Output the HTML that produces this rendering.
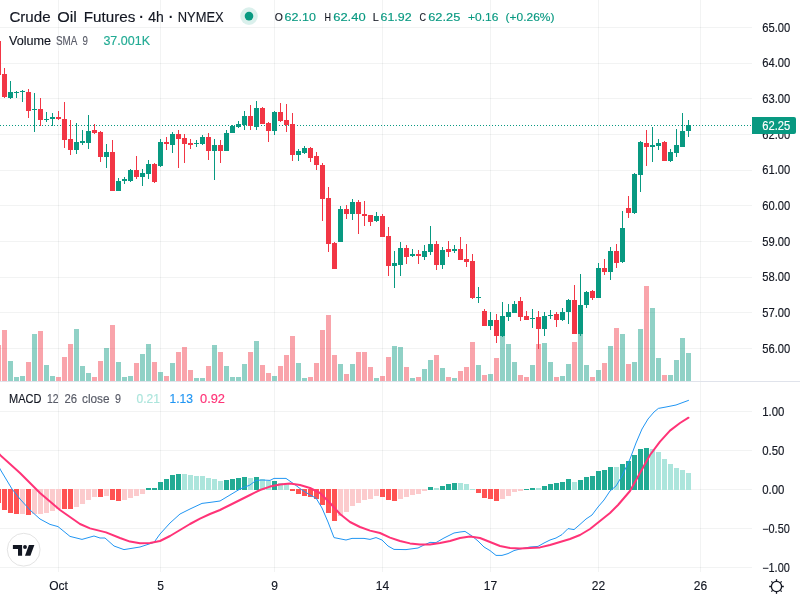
<!DOCTYPE html>
<html lang="en"><head><meta charset="utf-8"><title>Crude Oil Futures chart</title>
<style>
html,body{margin:0;padding:0;background:#fff}
body{width:800px;height:600px;overflow:hidden;position:relative;font-family:"Liberation Sans",sans-serif;color:#131722}
svg{position:absolute;left:0;top:0;display:block}
text{font-family:"Liberation Sans",sans-serif}
.c rect{shape-rendering:crispEdges}
</style></head><body>
<svg width="800" height="600" viewBox="0 0 800 600">
<rect width="800" height="600" fill="#fff"/>
<g class="c" fill="rgba(42,46,57,0.06)">
<rect x="58" y="0" width="1" height="381"/><rect x="58" y="382" width="1" height="190"/>
<rect x="160" y="0" width="1" height="381"/><rect x="160" y="382" width="1" height="190"/>
<rect x="274" y="0" width="1" height="381"/><rect x="274" y="382" width="1" height="190"/>
<rect x="382" y="0" width="1" height="381"/><rect x="382" y="382" width="1" height="190"/>
<rect x="490" y="0" width="1" height="381"/><rect x="490" y="382" width="1" height="190"/>
<rect x="598" y="0" width="1" height="381"/><rect x="598" y="382" width="1" height="190"/>
<rect x="700" y="0" width="1" height="381"/><rect x="700" y="382" width="1" height="190"/>
<rect x="0" y="27" width="752" height="1"/>
<rect x="0" y="63" width="752" height="1"/>
<rect x="0" y="98" width="752" height="1"/>
<rect x="0" y="134" width="752" height="1"/>
<rect x="0" y="170" width="752" height="1"/>
<rect x="0" y="205" width="752" height="1"/>
<rect x="0" y="241" width="752" height="1"/>
<rect x="0" y="277" width="752" height="1"/>
<rect x="0" y="312" width="752" height="1"/>
<rect x="0" y="348" width="752" height="1"/>
<rect x="0" y="411" width="752" height="1"/>
<rect x="0" y="450" width="752" height="1"/>
<rect x="0" y="489" width="752" height="1"/>
<rect x="0" y="528" width="752" height="1"/>
<rect x="0" y="567" width="752" height="1"/>
</g>
<g class="c">
<rect x="-4" y="345" width="5" height="36" fill="rgba(242,54,69,0.45)"/><rect x="2" y="330" width="5" height="51" fill="rgba(242,54,69,0.45)"/><rect x="8" y="361" width="5" height="20" fill="rgba(8,153,129,0.45)"/><rect x="14" y="377" width="5" height="4" fill="rgba(8,153,129,0.45)"/><rect x="20" y="376" width="5" height="5" fill="rgba(8,153,129,0.45)"/><rect x="26" y="362" width="5" height="19" fill="rgba(242,54,69,0.45)"/><rect x="32" y="334" width="5" height="47" fill="rgba(8,153,129,0.45)"/><rect x="38" y="331" width="5" height="50" fill="rgba(242,54,69,0.45)"/><rect x="44" y="365" width="5" height="16" fill="rgba(8,153,129,0.45)"/><rect x="50" y="376" width="5" height="5" fill="rgba(8,153,129,0.45)"/><rect x="56" y="377" width="5" height="4" fill="rgba(242,54,69,0.45)"/><rect x="62" y="357" width="5" height="24" fill="rgba(242,54,69,0.45)"/><rect x="68" y="344" width="5" height="37" fill="rgba(242,54,69,0.45)"/><rect x="74" y="329" width="5" height="52" fill="rgba(8,153,129,0.45)"/><rect x="80" y="366" width="5" height="15" fill="rgba(8,153,129,0.45)"/><rect x="86" y="373" width="5" height="8" fill="rgba(8,153,129,0.45)"/><rect x="92" y="377" width="5" height="4" fill="rgba(242,54,69,0.45)"/><rect x="98" y="361" width="5" height="20" fill="rgba(242,54,69,0.45)"/><rect x="104" y="348" width="5" height="33" fill="rgba(8,153,129,0.45)"/><rect x="110" y="325" width="5" height="56" fill="rgba(242,54,69,0.45)"/><rect x="116" y="362" width="5" height="19" fill="rgba(8,153,129,0.45)"/><rect x="122" y="377" width="5" height="4" fill="rgba(8,153,129,0.45)"/><rect x="128" y="376" width="5" height="5" fill="rgba(8,153,129,0.45)"/><rect x="134" y="363" width="5" height="18" fill="rgba(242,54,69,0.45)"/><rect x="140" y="354" width="5" height="27" fill="rgba(8,153,129,0.45)"/><rect x="146" y="344" width="5" height="37" fill="rgba(8,153,129,0.45)"/><rect x="152" y="362" width="5" height="19" fill="rgba(242,54,69,0.45)"/><rect x="158" y="372" width="5" height="9" fill="rgba(8,153,129,0.45)"/><rect x="164" y="376" width="5" height="5" fill="rgba(242,54,69,0.45)"/><rect x="170" y="363" width="5" height="18" fill="rgba(8,153,129,0.45)"/><rect x="176" y="352" width="5" height="29" fill="rgba(242,54,69,0.45)"/><rect x="182" y="347" width="5" height="34" fill="rgba(242,54,69,0.45)"/><rect x="188" y="370" width="5" height="11" fill="rgba(242,54,69,0.45)"/><rect x="194" y="378" width="5" height="3" fill="rgba(8,153,129,0.45)"/><rect x="200" y="378" width="5" height="3" fill="rgba(8,153,129,0.45)"/><rect x="206" y="366" width="5" height="15" fill="rgba(242,54,69,0.45)"/><rect x="212" y="345" width="5" height="36" fill="rgba(8,153,129,0.45)"/><rect x="218" y="352" width="5" height="29" fill="rgba(242,54,69,0.45)"/><rect x="224" y="366" width="5" height="15" fill="rgba(8,153,129,0.45)"/><rect x="230" y="377" width="5" height="4" fill="rgba(8,153,129,0.45)"/><rect x="236" y="377" width="5" height="4" fill="rgba(8,153,129,0.45)"/><rect x="242" y="364" width="5" height="17" fill="rgba(8,153,129,0.45)"/><rect x="248" y="352" width="5" height="29" fill="rgba(242,54,69,0.45)"/><rect x="254" y="341" width="5" height="40" fill="rgba(8,153,129,0.45)"/><rect x="260" y="365" width="5" height="16" fill="rgba(242,54,69,0.45)"/><rect x="266" y="373" width="5" height="8" fill="rgba(242,54,69,0.45)"/><rect x="272" y="376" width="5" height="5" fill="rgba(8,153,129,0.45)"/><rect x="278" y="366" width="5" height="15" fill="rgba(242,54,69,0.45)"/><rect x="284" y="355" width="5" height="26" fill="rgba(242,54,69,0.45)"/><rect x="290" y="336" width="5" height="45" fill="rgba(242,54,69,0.45)"/><rect x="296" y="363" width="5" height="18" fill="rgba(8,153,129,0.45)"/><rect x="302" y="378" width="5" height="3" fill="rgba(8,153,129,0.45)"/><rect x="308" y="377" width="5" height="4" fill="rgba(242,54,69,0.45)"/><rect x="314" y="363" width="5" height="18" fill="rgba(242,54,69,0.45)"/><rect x="320" y="330" width="5" height="51" fill="rgba(242,54,69,0.45)"/><rect x="326" y="315" width="5" height="66" fill="rgba(242,54,69,0.45)"/><rect x="332" y="355" width="5" height="26" fill="rgba(242,54,69,0.45)"/><rect x="338" y="364" width="5" height="17" fill="rgba(8,153,129,0.45)"/><rect x="344" y="374" width="5" height="7" fill="rgba(242,54,69,0.45)"/><rect x="350" y="364" width="5" height="17" fill="rgba(8,153,129,0.45)"/><rect x="356" y="352" width="5" height="29" fill="rgba(242,54,69,0.45)"/><rect x="362" y="352" width="5" height="29" fill="rgba(242,54,69,0.45)"/><rect x="368" y="367" width="5" height="14" fill="rgba(242,54,69,0.45)"/><rect x="374" y="378" width="5" height="3" fill="rgba(8,153,129,0.45)"/><rect x="380" y="376" width="5" height="5" fill="rgba(242,54,69,0.45)"/><rect x="386" y="357" width="5" height="24" fill="rgba(242,54,69,0.45)"/><rect x="392" y="346" width="5" height="35" fill="rgba(8,153,129,0.45)"/><rect x="398" y="347" width="5" height="34" fill="rgba(8,153,129,0.45)"/><rect x="404" y="367" width="5" height="14" fill="rgba(242,54,69,0.45)"/><rect x="410" y="378" width="5" height="3" fill="rgba(8,153,129,0.45)"/><rect x="416" y="377" width="5" height="4" fill="rgba(242,54,69,0.45)"/><rect x="422" y="369" width="5" height="12" fill="rgba(8,153,129,0.45)"/><rect x="428" y="360" width="5" height="21" fill="rgba(8,153,129,0.45)"/><rect x="434" y="355" width="5" height="26" fill="rgba(242,54,69,0.45)"/><rect x="440" y="368" width="5" height="13" fill="rgba(8,153,129,0.45)"/><rect x="446" y="377" width="5" height="4" fill="rgba(242,54,69,0.45)"/><rect x="452" y="378" width="5" height="3" fill="rgba(8,153,129,0.45)"/><rect x="458" y="371" width="5" height="10" fill="rgba(242,54,69,0.45)"/><rect x="464" y="367" width="5" height="14" fill="rgba(242,54,69,0.45)"/><rect x="470" y="342" width="5" height="39" fill="rgba(242,54,69,0.45)"/><rect x="476" y="365" width="5" height="16" fill="rgba(8,153,129,0.45)"/><rect x="482" y="375" width="5" height="6" fill="rgba(242,54,69,0.45)"/><rect x="488" y="374" width="5" height="7" fill="rgba(8,153,129,0.45)"/><rect x="494" y="358" width="5" height="23" fill="rgba(242,54,69,0.45)"/><rect x="500" y="333" width="5" height="48" fill="rgba(8,153,129,0.45)"/><rect x="506" y="344" width="5" height="37" fill="rgba(8,153,129,0.45)"/><rect x="512" y="362" width="5" height="19" fill="rgba(8,153,129,0.45)"/><rect x="518" y="375" width="5" height="6" fill="rgba(242,54,69,0.45)"/><rect x="524" y="377" width="5" height="4" fill="rgba(242,54,69,0.45)"/><rect x="530" y="365" width="5" height="16" fill="rgba(8,153,129,0.45)"/><rect x="536" y="344" width="5" height="37" fill="rgba(242,54,69,0.45)"/><rect x="542" y="343" width="5" height="38" fill="rgba(8,153,129,0.45)"/><rect x="548" y="362" width="5" height="19" fill="rgba(8,153,129,0.45)"/><rect x="554" y="377" width="5" height="4" fill="rgba(242,54,69,0.45)"/><rect x="560" y="376" width="5" height="5" fill="rgba(8,153,129,0.45)"/><rect x="566" y="364" width="5" height="17" fill="rgba(8,153,129,0.45)"/><rect x="572" y="342" width="5" height="39" fill="rgba(242,54,69,0.45)"/><rect x="578" y="331" width="5" height="50" fill="rgba(8,153,129,0.45)"/><rect x="584" y="365" width="5" height="16" fill="rgba(8,153,129,0.45)"/><rect x="590" y="377" width="5" height="4" fill="rgba(242,54,69,0.45)"/><rect x="596" y="370" width="5" height="11" fill="rgba(8,153,129,0.45)"/><rect x="602" y="363" width="5" height="18" fill="rgba(242,54,69,0.45)"/><rect x="608" y="346" width="5" height="35" fill="rgba(8,153,129,0.45)"/><rect x="614" y="328" width="5" height="53" fill="rgba(242,54,69,0.45)"/><rect x="620" y="334" width="5" height="47" fill="rgba(8,153,129,0.45)"/><rect x="626" y="364" width="5" height="17" fill="rgba(242,54,69,0.45)"/><rect x="632" y="362" width="5" height="19" fill="rgba(8,153,129,0.45)"/><rect x="638" y="329" width="5" height="52" fill="rgba(8,153,129,0.45)"/><rect x="644" y="286" width="5" height="95" fill="rgba(242,54,69,0.45)"/><rect x="650" y="308" width="5" height="73" fill="rgba(8,153,129,0.45)"/><rect x="656" y="358" width="5" height="23" fill="rgba(8,153,129,0.45)"/><rect x="662" y="375" width="5" height="6" fill="rgba(242,54,69,0.45)"/><rect x="668" y="375" width="5" height="6" fill="rgba(8,153,129,0.45)"/><rect x="674" y="360" width="5" height="21" fill="rgba(8,153,129,0.45)"/><rect x="680" y="338" width="5" height="43" fill="rgba(8,153,129,0.45)"/><rect x="686" y="353" width="5" height="28" fill="rgba(8,153,129,0.45)"/>
</g>
<g class="c" fill="#089981"><rect x="0" y="125" width="1" height="1"/><rect x="3" y="125" width="1" height="1"/><rect x="6" y="125" width="1" height="1"/><rect x="9" y="125" width="1" height="1"/><rect x="12" y="125" width="1" height="1"/><rect x="15" y="125" width="1" height="1"/><rect x="18" y="125" width="1" height="1"/><rect x="21" y="125" width="1" height="1"/><rect x="24" y="125" width="1" height="1"/><rect x="27" y="125" width="1" height="1"/><rect x="30" y="125" width="1" height="1"/><rect x="33" y="125" width="1" height="1"/><rect x="36" y="125" width="1" height="1"/><rect x="39" y="125" width="1" height="1"/><rect x="42" y="125" width="1" height="1"/><rect x="45" y="125" width="1" height="1"/><rect x="48" y="125" width="1" height="1"/><rect x="51" y="125" width="1" height="1"/><rect x="54" y="125" width="1" height="1"/><rect x="57" y="125" width="1" height="1"/><rect x="60" y="125" width="1" height="1"/><rect x="63" y="125" width="1" height="1"/><rect x="66" y="125" width="1" height="1"/><rect x="69" y="125" width="1" height="1"/><rect x="72" y="125" width="1" height="1"/><rect x="75" y="125" width="1" height="1"/><rect x="78" y="125" width="1" height="1"/><rect x="81" y="125" width="1" height="1"/><rect x="84" y="125" width="1" height="1"/><rect x="87" y="125" width="1" height="1"/><rect x="90" y="125" width="1" height="1"/><rect x="93" y="125" width="1" height="1"/><rect x="96" y="125" width="1" height="1"/><rect x="99" y="125" width="1" height="1"/><rect x="102" y="125" width="1" height="1"/><rect x="105" y="125" width="1" height="1"/><rect x="108" y="125" width="1" height="1"/><rect x="111" y="125" width="1" height="1"/><rect x="114" y="125" width="1" height="1"/><rect x="117" y="125" width="1" height="1"/><rect x="120" y="125" width="1" height="1"/><rect x="123" y="125" width="1" height="1"/><rect x="126" y="125" width="1" height="1"/><rect x="129" y="125" width="1" height="1"/><rect x="132" y="125" width="1" height="1"/><rect x="135" y="125" width="1" height="1"/><rect x="138" y="125" width="1" height="1"/><rect x="141" y="125" width="1" height="1"/><rect x="144" y="125" width="1" height="1"/><rect x="147" y="125" width="1" height="1"/><rect x="150" y="125" width="1" height="1"/><rect x="153" y="125" width="1" height="1"/><rect x="156" y="125" width="1" height="1"/><rect x="159" y="125" width="1" height="1"/><rect x="162" y="125" width="1" height="1"/><rect x="165" y="125" width="1" height="1"/><rect x="168" y="125" width="1" height="1"/><rect x="171" y="125" width="1" height="1"/><rect x="174" y="125" width="1" height="1"/><rect x="177" y="125" width="1" height="1"/><rect x="180" y="125" width="1" height="1"/><rect x="183" y="125" width="1" height="1"/><rect x="186" y="125" width="1" height="1"/><rect x="189" y="125" width="1" height="1"/><rect x="192" y="125" width="1" height="1"/><rect x="195" y="125" width="1" height="1"/><rect x="198" y="125" width="1" height="1"/><rect x="201" y="125" width="1" height="1"/><rect x="204" y="125" width="1" height="1"/><rect x="207" y="125" width="1" height="1"/><rect x="210" y="125" width="1" height="1"/><rect x="213" y="125" width="1" height="1"/><rect x="216" y="125" width="1" height="1"/><rect x="219" y="125" width="1" height="1"/><rect x="222" y="125" width="1" height="1"/><rect x="225" y="125" width="1" height="1"/><rect x="228" y="125" width="1" height="1"/><rect x="231" y="125" width="1" height="1"/><rect x="234" y="125" width="1" height="1"/><rect x="237" y="125" width="1" height="1"/><rect x="240" y="125" width="1" height="1"/><rect x="243" y="125" width="1" height="1"/><rect x="246" y="125" width="1" height="1"/><rect x="249" y="125" width="1" height="1"/><rect x="252" y="125" width="1" height="1"/><rect x="255" y="125" width="1" height="1"/><rect x="258" y="125" width="1" height="1"/><rect x="261" y="125" width="1" height="1"/><rect x="264" y="125" width="1" height="1"/><rect x="267" y="125" width="1" height="1"/><rect x="270" y="125" width="1" height="1"/><rect x="273" y="125" width="1" height="1"/><rect x="276" y="125" width="1" height="1"/><rect x="279" y="125" width="1" height="1"/><rect x="282" y="125" width="1" height="1"/><rect x="285" y="125" width="1" height="1"/><rect x="288" y="125" width="1" height="1"/><rect x="291" y="125" width="1" height="1"/><rect x="294" y="125" width="1" height="1"/><rect x="297" y="125" width="1" height="1"/><rect x="300" y="125" width="1" height="1"/><rect x="303" y="125" width="1" height="1"/><rect x="306" y="125" width="1" height="1"/><rect x="309" y="125" width="1" height="1"/><rect x="312" y="125" width="1" height="1"/><rect x="315" y="125" width="1" height="1"/><rect x="318" y="125" width="1" height="1"/><rect x="321" y="125" width="1" height="1"/><rect x="324" y="125" width="1" height="1"/><rect x="327" y="125" width="1" height="1"/><rect x="330" y="125" width="1" height="1"/><rect x="333" y="125" width="1" height="1"/><rect x="336" y="125" width="1" height="1"/><rect x="339" y="125" width="1" height="1"/><rect x="342" y="125" width="1" height="1"/><rect x="345" y="125" width="1" height="1"/><rect x="348" y="125" width="1" height="1"/><rect x="351" y="125" width="1" height="1"/><rect x="354" y="125" width="1" height="1"/><rect x="357" y="125" width="1" height="1"/><rect x="360" y="125" width="1" height="1"/><rect x="363" y="125" width="1" height="1"/><rect x="366" y="125" width="1" height="1"/><rect x="369" y="125" width="1" height="1"/><rect x="372" y="125" width="1" height="1"/><rect x="375" y="125" width="1" height="1"/><rect x="378" y="125" width="1" height="1"/><rect x="381" y="125" width="1" height="1"/><rect x="384" y="125" width="1" height="1"/><rect x="387" y="125" width="1" height="1"/><rect x="390" y="125" width="1" height="1"/><rect x="393" y="125" width="1" height="1"/><rect x="396" y="125" width="1" height="1"/><rect x="399" y="125" width="1" height="1"/><rect x="402" y="125" width="1" height="1"/><rect x="405" y="125" width="1" height="1"/><rect x="408" y="125" width="1" height="1"/><rect x="411" y="125" width="1" height="1"/><rect x="414" y="125" width="1" height="1"/><rect x="417" y="125" width="1" height="1"/><rect x="420" y="125" width="1" height="1"/><rect x="423" y="125" width="1" height="1"/><rect x="426" y="125" width="1" height="1"/><rect x="429" y="125" width="1" height="1"/><rect x="432" y="125" width="1" height="1"/><rect x="435" y="125" width="1" height="1"/><rect x="438" y="125" width="1" height="1"/><rect x="441" y="125" width="1" height="1"/><rect x="444" y="125" width="1" height="1"/><rect x="447" y="125" width="1" height="1"/><rect x="450" y="125" width="1" height="1"/><rect x="453" y="125" width="1" height="1"/><rect x="456" y="125" width="1" height="1"/><rect x="459" y="125" width="1" height="1"/><rect x="462" y="125" width="1" height="1"/><rect x="465" y="125" width="1" height="1"/><rect x="468" y="125" width="1" height="1"/><rect x="471" y="125" width="1" height="1"/><rect x="474" y="125" width="1" height="1"/><rect x="477" y="125" width="1" height="1"/><rect x="480" y="125" width="1" height="1"/><rect x="483" y="125" width="1" height="1"/><rect x="486" y="125" width="1" height="1"/><rect x="489" y="125" width="1" height="1"/><rect x="492" y="125" width="1" height="1"/><rect x="495" y="125" width="1" height="1"/><rect x="498" y="125" width="1" height="1"/><rect x="501" y="125" width="1" height="1"/><rect x="504" y="125" width="1" height="1"/><rect x="507" y="125" width="1" height="1"/><rect x="510" y="125" width="1" height="1"/><rect x="513" y="125" width="1" height="1"/><rect x="516" y="125" width="1" height="1"/><rect x="519" y="125" width="1" height="1"/><rect x="522" y="125" width="1" height="1"/><rect x="525" y="125" width="1" height="1"/><rect x="528" y="125" width="1" height="1"/><rect x="531" y="125" width="1" height="1"/><rect x="534" y="125" width="1" height="1"/><rect x="537" y="125" width="1" height="1"/><rect x="540" y="125" width="1" height="1"/><rect x="543" y="125" width="1" height="1"/><rect x="546" y="125" width="1" height="1"/><rect x="549" y="125" width="1" height="1"/><rect x="552" y="125" width="1" height="1"/><rect x="555" y="125" width="1" height="1"/><rect x="558" y="125" width="1" height="1"/><rect x="561" y="125" width="1" height="1"/><rect x="564" y="125" width="1" height="1"/><rect x="567" y="125" width="1" height="1"/><rect x="570" y="125" width="1" height="1"/><rect x="573" y="125" width="1" height="1"/><rect x="576" y="125" width="1" height="1"/><rect x="579" y="125" width="1" height="1"/><rect x="582" y="125" width="1" height="1"/><rect x="585" y="125" width="1" height="1"/><rect x="588" y="125" width="1" height="1"/><rect x="591" y="125" width="1" height="1"/><rect x="594" y="125" width="1" height="1"/><rect x="597" y="125" width="1" height="1"/><rect x="600" y="125" width="1" height="1"/><rect x="603" y="125" width="1" height="1"/><rect x="606" y="125" width="1" height="1"/><rect x="609" y="125" width="1" height="1"/><rect x="612" y="125" width="1" height="1"/><rect x="615" y="125" width="1" height="1"/><rect x="618" y="125" width="1" height="1"/><rect x="621" y="125" width="1" height="1"/><rect x="624" y="125" width="1" height="1"/><rect x="627" y="125" width="1" height="1"/><rect x="630" y="125" width="1" height="1"/><rect x="633" y="125" width="1" height="1"/><rect x="636" y="125" width="1" height="1"/><rect x="639" y="125" width="1" height="1"/><rect x="642" y="125" width="1" height="1"/><rect x="645" y="125" width="1" height="1"/><rect x="648" y="125" width="1" height="1"/><rect x="651" y="125" width="1" height="1"/><rect x="654" y="125" width="1" height="1"/><rect x="657" y="125" width="1" height="1"/><rect x="660" y="125" width="1" height="1"/><rect x="663" y="125" width="1" height="1"/><rect x="666" y="125" width="1" height="1"/><rect x="669" y="125" width="1" height="1"/><rect x="672" y="125" width="1" height="1"/><rect x="675" y="125" width="1" height="1"/><rect x="678" y="125" width="1" height="1"/><rect x="681" y="125" width="1" height="1"/><rect x="684" y="125" width="1" height="1"/><rect x="687" y="125" width="1" height="1"/><rect x="690" y="125" width="1" height="1"/><rect x="693" y="125" width="1" height="1"/><rect x="696" y="125" width="1" height="1"/><rect x="699" y="125" width="1" height="1"/><rect x="702" y="125" width="1" height="1"/><rect x="705" y="125" width="1" height="1"/><rect x="708" y="125" width="1" height="1"/><rect x="711" y="125" width="1" height="1"/><rect x="714" y="125" width="1" height="1"/><rect x="717" y="125" width="1" height="1"/><rect x="720" y="125" width="1" height="1"/><rect x="723" y="125" width="1" height="1"/><rect x="726" y="125" width="1" height="1"/><rect x="729" y="125" width="1" height="1"/><rect x="732" y="125" width="1" height="1"/><rect x="735" y="125" width="1" height="1"/><rect x="738" y="125" width="1" height="1"/><rect x="741" y="125" width="1" height="1"/><rect x="744" y="125" width="1" height="1"/><rect x="747" y="125" width="1" height="1"/><rect x="750" y="125" width="1" height="1"/></g>
<g class="c">
<rect x="-2" y="41" width="1" height="34" fill="#f23645"/><rect x="-4" y="41" width="5" height="34" fill="#f23645"/><rect x="4" y="68" width="1" height="30" fill="#f23645"/><rect x="2" y="74" width="5" height="23" fill="#f23645"/><rect x="10" y="81" width="1" height="18" fill="#089981"/><rect x="8" y="92" width="5" height="6" fill="#089981"/><rect x="16" y="91" width="1" height="7" fill="#089981"/><rect x="14" y="92" width="5" height="1" fill="#089981"/><rect x="22" y="90" width="1" height="12" fill="#089981"/><rect x="20" y="91" width="5" height="1" fill="#089981"/><rect x="28" y="89" width="1" height="29" fill="#f23645"/><rect x="26" y="92" width="5" height="19" fill="#f23645"/><rect x="34" y="93" width="1" height="39" fill="#089981"/><rect x="32" y="109" width="5" height="1" fill="#089981"/><rect x="40" y="98" width="1" height="28" fill="#f23645"/><rect x="38" y="109" width="5" height="11" fill="#f23645"/><rect x="46" y="112" width="1" height="10" fill="#089981"/><rect x="44" y="119" width="5" height="1" fill="#089981"/><rect x="52" y="113" width="1" height="13" fill="#089981"/><rect x="50" y="117" width="5" height="2" fill="#089981"/><rect x="58" y="111" width="1" height="9" fill="#f23645"/><rect x="56" y="117" width="5" height="2" fill="#f23645"/><rect x="64" y="102" width="1" height="46" fill="#f23645"/><rect x="62" y="119" width="5" height="21" fill="#f23645"/><rect x="70" y="120" width="1" height="35" fill="#f23645"/><rect x="68" y="139" width="5" height="11" fill="#f23645"/><rect x="76" y="123" width="1" height="31" fill="#089981"/><rect x="74" y="142" width="5" height="8" fill="#089981"/><rect x="82" y="130" width="1" height="15" fill="#089981"/><rect x="80" y="141" width="5" height="2" fill="#089981"/><rect x="88" y="115" width="1" height="34" fill="#089981"/><rect x="86" y="131" width="5" height="12" fill="#089981"/><rect x="94" y="124" width="1" height="10" fill="#f23645"/><rect x="92" y="130" width="5" height="3" fill="#f23645"/><rect x="100" y="131" width="1" height="31" fill="#f23645"/><rect x="98" y="132" width="5" height="25" fill="#f23645"/><rect x="106" y="144" width="1" height="24" fill="#089981"/><rect x="104" y="152" width="5" height="5" fill="#089981"/><rect x="112" y="140" width="1" height="51" fill="#f23645"/><rect x="110" y="152" width="5" height="39" fill="#f23645"/><rect x="118" y="178" width="1" height="13" fill="#089981"/><rect x="116" y="181" width="5" height="10" fill="#089981"/><rect x="124" y="177" width="1" height="7" fill="#089981"/><rect x="122" y="179" width="5" height="2" fill="#089981"/><rect x="130" y="169" width="1" height="13" fill="#089981"/><rect x="128" y="170" width="5" height="11" fill="#089981"/><rect x="136" y="156" width="1" height="23" fill="#f23645"/><rect x="134" y="170" width="5" height="7" fill="#f23645"/><rect x="142" y="169" width="1" height="17" fill="#089981"/><rect x="140" y="173" width="5" height="4" fill="#089981"/><rect x="148" y="160" width="1" height="19" fill="#089981"/><rect x="146" y="164" width="5" height="10" fill="#089981"/><rect x="154" y="163" width="1" height="20" fill="#f23645"/><rect x="152" y="164" width="5" height="18" fill="#f23645"/><rect x="160" y="139" width="1" height="28" fill="#089981"/><rect x="158" y="142" width="5" height="24" fill="#089981"/><rect x="166" y="137" width="1" height="13" fill="#f23645"/><rect x="164" y="142" width="5" height="2" fill="#f23645"/><rect x="172" y="132" width="1" height="21" fill="#089981"/><rect x="170" y="134" width="5" height="11" fill="#089981"/><rect x="178" y="130" width="1" height="38" fill="#f23645"/><rect x="176" y="134" width="5" height="5" fill="#f23645"/><rect x="184" y="134" width="1" height="29" fill="#f23645"/><rect x="182" y="138" width="5" height="6" fill="#f23645"/><rect x="190" y="139" width="1" height="10" fill="#f23645"/><rect x="188" y="143" width="5" height="2" fill="#f23645"/><rect x="196" y="140" width="1" height="7" fill="#089981"/><rect x="194" y="143" width="5" height="1" fill="#089981"/><rect x="202" y="135" width="1" height="10" fill="#089981"/><rect x="200" y="137" width="5" height="7" fill="#089981"/><rect x="208" y="133" width="1" height="27" fill="#f23645"/><rect x="206" y="137" width="5" height="14" fill="#f23645"/><rect x="214" y="139" width="1" height="41" fill="#089981"/><rect x="212" y="145" width="5" height="6" fill="#089981"/><rect x="220" y="140" width="1" height="23" fill="#f23645"/><rect x="218" y="145" width="5" height="6" fill="#f23645"/><rect x="226" y="130" width="1" height="21" fill="#089981"/><rect x="224" y="133" width="5" height="18" fill="#089981"/><rect x="232" y="125" width="1" height="8" fill="#089981"/><rect x="230" y="126" width="5" height="7" fill="#089981"/><rect x="238" y="121" width="1" height="7" fill="#089981"/><rect x="236" y="124" width="5" height="3" fill="#089981"/><rect x="244" y="111" width="1" height="19" fill="#089981"/><rect x="242" y="116" width="5" height="9" fill="#089981"/><rect x="250" y="105" width="1" height="25" fill="#f23645"/><rect x="248" y="116" width="5" height="10" fill="#f23645"/><rect x="256" y="101" width="1" height="29" fill="#089981"/><rect x="254" y="108" width="5" height="19" fill="#089981"/><rect x="262" y="107" width="1" height="17" fill="#f23645"/><rect x="260" y="108" width="5" height="16" fill="#f23645"/><rect x="268" y="122" width="1" height="20" fill="#f23645"/><rect x="266" y="123" width="5" height="8" fill="#f23645"/><rect x="274" y="111" width="1" height="24" fill="#089981"/><rect x="272" y="112" width="5" height="19" fill="#089981"/><rect x="280" y="103" width="1" height="19" fill="#f23645"/><rect x="278" y="112" width="5" height="9" fill="#f23645"/><rect x="286" y="104" width="1" height="28" fill="#f23645"/><rect x="284" y="120" width="5" height="5" fill="#f23645"/><rect x="292" y="113" width="1" height="48" fill="#f23645"/><rect x="290" y="124" width="5" height="31" fill="#f23645"/><rect x="298" y="149" width="1" height="12" fill="#089981"/><rect x="296" y="151" width="5" height="4" fill="#089981"/><rect x="304" y="146" width="1" height="8" fill="#089981"/><rect x="302" y="148" width="5" height="5" fill="#089981"/><rect x="310" y="147" width="1" height="15" fill="#f23645"/><rect x="308" y="148" width="5" height="10" fill="#f23645"/><rect x="316" y="152" width="1" height="18" fill="#f23645"/><rect x="314" y="156" width="5" height="9" fill="#f23645"/><rect x="322" y="163" width="1" height="58" fill="#f23645"/><rect x="320" y="165" width="5" height="34" fill="#f23645"/><rect x="328" y="187" width="1" height="65" fill="#f23645"/><rect x="326" y="198" width="5" height="46" fill="#f23645"/><rect x="334" y="242" width="1" height="27" fill="#f23645"/><rect x="332" y="243" width="5" height="26" fill="#f23645"/><rect x="340" y="206" width="1" height="36" fill="#089981"/><rect x="338" y="209" width="5" height="33" fill="#089981"/><rect x="346" y="205" width="1" height="14" fill="#f23645"/><rect x="344" y="209" width="5" height="5" fill="#f23645"/><rect x="352" y="199" width="1" height="21" fill="#089981"/><rect x="350" y="202" width="5" height="12" fill="#089981"/><rect x="358" y="200" width="1" height="34" fill="#f23645"/><rect x="356" y="202" width="5" height="12" fill="#f23645"/><rect x="364" y="201" width="1" height="25" fill="#f23645"/><rect x="362" y="214" width="5" height="2" fill="#f23645"/><rect x="370" y="215" width="1" height="11" fill="#f23645"/><rect x="368" y="215" width="5" height="7" fill="#f23645"/><rect x="376" y="212" width="1" height="10" fill="#089981"/><rect x="374" y="216" width="5" height="5" fill="#089981"/><rect x="382" y="214" width="1" height="23" fill="#f23645"/><rect x="380" y="216" width="5" height="21" fill="#f23645"/><rect x="388" y="227" width="1" height="49" fill="#f23645"/><rect x="386" y="236" width="5" height="30" fill="#f23645"/><rect x="394" y="251" width="1" height="37" fill="#089981"/><rect x="392" y="263" width="5" height="3" fill="#089981"/><rect x="400" y="242" width="1" height="34" fill="#089981"/><rect x="398" y="248" width="5" height="17" fill="#089981"/><rect x="406" y="245" width="1" height="19" fill="#f23645"/><rect x="404" y="248" width="5" height="9" fill="#f23645"/><rect x="412" y="249" width="1" height="8" fill="#089981"/><rect x="410" y="254" width="5" height="2" fill="#089981"/><rect x="418" y="250" width="1" height="14" fill="#f23645"/><rect x="416" y="254" width="5" height="2" fill="#f23645"/><rect x="424" y="245" width="1" height="15" fill="#089981"/><rect x="422" y="251" width="5" height="6" fill="#089981"/><rect x="430" y="226" width="1" height="29" fill="#089981"/><rect x="428" y="244" width="5" height="8" fill="#089981"/><rect x="436" y="241" width="1" height="29" fill="#f23645"/><rect x="434" y="244" width="5" height="21" fill="#f23645"/><rect x="442" y="247" width="1" height="22" fill="#089981"/><rect x="440" y="250" width="5" height="15" fill="#089981"/><rect x="448" y="241" width="1" height="16" fill="#f23645"/><rect x="446" y="249" width="5" height="3" fill="#f23645"/><rect x="454" y="245" width="1" height="8" fill="#089981"/><rect x="452" y="249" width="5" height="2" fill="#089981"/><rect x="460" y="237" width="1" height="23" fill="#f23645"/><rect x="458" y="249" width="5" height="11" fill="#f23645"/><rect x="466" y="244" width="1" height="23" fill="#f23645"/><rect x="464" y="259" width="5" height="3" fill="#f23645"/><rect x="472" y="254" width="1" height="45" fill="#f23645"/><rect x="470" y="261" width="5" height="37" fill="#f23645"/><rect x="478" y="287" width="1" height="16" fill="#089981"/><rect x="476" y="297" width="5" height="1" fill="#089981"/><rect x="484" y="309" width="1" height="17" fill="#f23645"/><rect x="482" y="311" width="5" height="15" fill="#f23645"/><rect x="490" y="312" width="1" height="18" fill="#089981"/><rect x="488" y="320" width="5" height="6" fill="#089981"/><rect x="496" y="314" width="1" height="29" fill="#f23645"/><rect x="494" y="320" width="5" height="16" fill="#f23645"/><rect x="502" y="302" width="1" height="35" fill="#089981"/><rect x="500" y="316" width="5" height="20" fill="#089981"/><rect x="508" y="304" width="1" height="17" fill="#089981"/><rect x="506" y="312" width="5" height="5" fill="#089981"/><rect x="514" y="301" width="1" height="12" fill="#089981"/><rect x="512" y="304" width="5" height="9" fill="#089981"/><rect x="520" y="297" width="1" height="24" fill="#f23645"/><rect x="518" y="301" width="5" height="16" fill="#f23645"/><rect x="526" y="311" width="1" height="9" fill="#f23645"/><rect x="524" y="316" width="5" height="4" fill="#f23645"/><rect x="532" y="309" width="1" height="19" fill="#089981"/><rect x="530" y="318" width="5" height="1" fill="#089981"/><rect x="538" y="311" width="1" height="38" fill="#f23645"/><rect x="536" y="317" width="5" height="12" fill="#f23645"/><rect x="544" y="312" width="1" height="24" fill="#089981"/><rect x="542" y="316" width="5" height="13" fill="#089981"/><rect x="550" y="310" width="1" height="9" fill="#089981"/><rect x="548" y="315" width="5" height="1" fill="#089981"/><rect x="556" y="312" width="1" height="15" fill="#f23645"/><rect x="554" y="314" width="5" height="6" fill="#f23645"/><rect x="562" y="308" width="1" height="13" fill="#089981"/><rect x="560" y="312" width="5" height="8" fill="#089981"/><rect x="568" y="299" width="1" height="25" fill="#089981"/><rect x="566" y="300" width="5" height="12" fill="#089981"/><rect x="574" y="285" width="1" height="49" fill="#f23645"/><rect x="572" y="300" width="5" height="34" fill="#f23645"/><rect x="580" y="274" width="1" height="62" fill="#089981"/><rect x="578" y="305" width="5" height="29" fill="#089981"/><rect x="586" y="291" width="1" height="17" fill="#089981"/><rect x="584" y="292" width="5" height="13" fill="#089981"/><rect x="592" y="290" width="1" height="10" fill="#f23645"/><rect x="590" y="291" width="5" height="7" fill="#f23645"/><rect x="598" y="263" width="1" height="35" fill="#089981"/><rect x="596" y="268" width="5" height="30" fill="#089981"/><rect x="604" y="259" width="1" height="16" fill="#f23645"/><rect x="602" y="268" width="5" height="4" fill="#f23645"/><rect x="610" y="247" width="1" height="33" fill="#089981"/><rect x="608" y="251" width="5" height="21" fill="#089981"/><rect x="616" y="244" width="1" height="24" fill="#f23645"/><rect x="614" y="251" width="5" height="12" fill="#f23645"/><rect x="622" y="211" width="1" height="52" fill="#089981"/><rect x="620" y="228" width="5" height="34" fill="#089981"/><rect x="628" y="196" width="1" height="22" fill="#f23645"/><rect x="626" y="208" width="5" height="5" fill="#f23645"/><rect x="634" y="173" width="1" height="41" fill="#089981"/><rect x="632" y="174" width="5" height="39" fill="#089981"/><rect x="640" y="141" width="1" height="51" fill="#089981"/><rect x="638" y="142" width="5" height="33" fill="#089981"/><rect x="646" y="130" width="1" height="36" fill="#f23645"/><rect x="644" y="143" width="5" height="4" fill="#f23645"/><rect x="652" y="127" width="1" height="35" fill="#089981"/><rect x="650" y="145" width="5" height="2" fill="#089981"/><rect x="658" y="139" width="1" height="11" fill="#089981"/><rect x="656" y="143" width="5" height="3" fill="#089981"/><rect x="664" y="141" width="1" height="20" fill="#f23645"/><rect x="662" y="142" width="5" height="19" fill="#f23645"/><rect x="670" y="149" width="1" height="13" fill="#089981"/><rect x="668" y="152" width="5" height="9" fill="#089981"/><rect x="676" y="129" width="1" height="28" fill="#089981"/><rect x="674" y="145" width="5" height="8" fill="#089981"/><rect x="682" y="113" width="1" height="34" fill="#089981"/><rect x="680" y="131" width="5" height="16" fill="#089981"/><rect x="688" y="120" width="1" height="17" fill="#089981"/><rect x="686" y="125" width="5" height="6" fill="#089981"/>
</g>
<rect class="c" x="0" y="381" width="800" height="1" fill="#e0e3eb" shape-rendering="crispEdges"/>
<g class="c">
<rect x="-4" y="489" width="5" height="14" fill="#ff5252"/><rect x="2" y="489" width="5" height="21" fill="#ff5252"/><rect x="8" y="489" width="5" height="24" fill="#ff5252"/><rect x="14" y="489" width="5" height="25" fill="#ff5252"/><rect x="20" y="489" width="5" height="25" fill="#fccbcd"/><rect x="26" y="489" width="5" height="26" fill="#ff5252"/><rect x="32" y="489" width="5" height="25" fill="#fccbcd"/><rect x="38" y="489" width="5" height="25" fill="#fccbcd"/><rect x="44" y="489" width="5" height="24" fill="#fccbcd"/><rect x="50" y="489" width="5" height="22" fill="#fccbcd"/><rect x="56" y="489" width="5" height="20" fill="#fccbcd"/><rect x="62" y="489" width="5" height="20" fill="#ff5252"/><rect x="68" y="489" width="5" height="20" fill="#ff5252"/><rect x="74" y="489" width="5" height="18" fill="#fccbcd"/><rect x="80" y="489" width="5" height="15" fill="#fccbcd"/><rect x="86" y="489" width="5" height="11" fill="#fccbcd"/><rect x="92" y="489" width="5" height="8" fill="#fccbcd"/><rect x="98" y="489" width="5" height="8" fill="#ff5252"/><rect x="104" y="489" width="5" height="7" fill="#fccbcd"/><rect x="110" y="489" width="5" height="11" fill="#ff5252"/><rect x="116" y="489" width="5" height="12" fill="#ff5252"/><rect x="122" y="489" width="5" height="11" fill="#fccbcd"/><rect x="128" y="489" width="5" height="9" fill="#fccbcd"/><rect x="134" y="489" width="5" height="7" fill="#fccbcd"/><rect x="140" y="489" width="5" height="5" fill="#fccbcd"/><rect x="146" y="488" width="5" height="2" fill="#22ab94"/><rect x="152" y="488" width="5" height="2" fill="#22ab94"/><rect x="158" y="482" width="5" height="8" fill="#22ab94"/><rect x="164" y="479" width="5" height="11" fill="#22ab94"/><rect x="170" y="475" width="5" height="15" fill="#22ab94"/><rect x="176" y="474" width="5" height="16" fill="#22ab94"/><rect x="182" y="474" width="5" height="16" fill="#ace5dc"/><rect x="188" y="475" width="5" height="15" fill="#ace5dc"/><rect x="194" y="476" width="5" height="14" fill="#ace5dc"/><rect x="200" y="476" width="5" height="14" fill="#ace5dc"/><rect x="206" y="478" width="5" height="12" fill="#ace5dc"/><rect x="212" y="479" width="5" height="11" fill="#ace5dc"/><rect x="218" y="481" width="5" height="9" fill="#ace5dc"/><rect x="224" y="480" width="5" height="10" fill="#22ab94"/><rect x="230" y="479" width="5" height="11" fill="#22ab94"/><rect x="236" y="478" width="5" height="12" fill="#22ab94"/><rect x="242" y="477" width="5" height="13" fill="#22ab94"/><rect x="248" y="478" width="5" height="12" fill="#ace5dc"/><rect x="254" y="477" width="5" height="13" fill="#22ab94"/><rect x="260" y="479" width="5" height="11" fill="#ace5dc"/><rect x="266" y="481" width="5" height="9" fill="#ace5dc"/><rect x="272" y="481" width="5" height="9" fill="#22ab94"/><rect x="278" y="483" width="5" height="7" fill="#ace5dc"/><rect x="284" y="484" width="5" height="6" fill="#ace5dc"/><rect x="290" y="489" width="5" height="2" fill="#ff5252"/><rect x="296" y="489" width="5" height="5" fill="#ff5252"/><rect x="302" y="489" width="5" height="7" fill="#ff5252"/><rect x="308" y="489" width="5" height="8" fill="#ff5252"/><rect x="314" y="489" width="5" height="10" fill="#ff5252"/><rect x="320" y="489" width="5" height="16" fill="#ff5252"/><rect x="326" y="489" width="5" height="24" fill="#ff5252"/><rect x="332" y="489" width="5" height="32" fill="#ff5252"/><rect x="338" y="489" width="5" height="27" fill="#fccbcd"/><rect x="344" y="489" width="5" height="23" fill="#fccbcd"/><rect x="350" y="489" width="5" height="17" fill="#fccbcd"/><rect x="356" y="489" width="5" height="14" fill="#fccbcd"/><rect x="362" y="489" width="5" height="11" fill="#fccbcd"/><rect x="368" y="489" width="5" height="10" fill="#fccbcd"/><rect x="374" y="489" width="5" height="7" fill="#fccbcd"/><rect x="380" y="489" width="5" height="8" fill="#ff5252"/><rect x="386" y="489" width="5" height="11" fill="#ff5252"/><rect x="392" y="489" width="5" height="12" fill="#ff5252"/><rect x="398" y="489" width="5" height="10" fill="#fccbcd"/><rect x="404" y="489" width="5" height="8" fill="#fccbcd"/><rect x="410" y="489" width="5" height="6" fill="#fccbcd"/><rect x="416" y="489" width="5" height="5" fill="#fccbcd"/><rect x="422" y="489" width="5" height="2" fill="#fccbcd"/><rect x="428" y="487" width="5" height="3" fill="#22ab94"/><rect x="434" y="488" width="5" height="2" fill="#ace5dc"/><rect x="440" y="486" width="5" height="4" fill="#22ab94"/><rect x="446" y="484" width="5" height="6" fill="#22ab94"/><rect x="452" y="483" width="5" height="7" fill="#22ab94"/><rect x="458" y="483" width="5" height="7" fill="#ace5dc"/><rect x="464" y="484" width="5" height="6" fill="#ace5dc"/><rect x="470" y="489" width="5" height="1" fill="#ace5dc"/><rect x="476" y="489" width="5" height="4" fill="#ff5252"/><rect x="482" y="489" width="5" height="9" fill="#ff5252"/><rect x="488" y="489" width="5" height="10" fill="#ff5252"/><rect x="494" y="489" width="5" height="12" fill="#ff5252"/><rect x="500" y="489" width="5" height="10" fill="#fccbcd"/><rect x="506" y="489" width="5" height="7" fill="#fccbcd"/><rect x="512" y="489" width="5" height="3" fill="#fccbcd"/><rect x="518" y="489" width="5" height="2" fill="#fccbcd"/><rect x="524" y="489" width="5" height="1" fill="#22ab94"/><rect x="530" y="488" width="5" height="2" fill="#22ab94"/><rect x="536" y="488" width="5" height="2" fill="#ace5dc"/><rect x="542" y="486" width="5" height="4" fill="#22ab94"/><rect x="548" y="484" width="5" height="6" fill="#22ab94"/><rect x="554" y="483" width="5" height="7" fill="#22ab94"/><rect x="560" y="482" width="5" height="8" fill="#22ab94"/><rect x="566" y="479" width="5" height="11" fill="#22ab94"/><rect x="572" y="482" width="5" height="8" fill="#ace5dc"/><rect x="578" y="480" width="5" height="10" fill="#22ab94"/><rect x="584" y="477" width="5" height="13" fill="#22ab94"/><rect x="590" y="476" width="5" height="14" fill="#22ab94"/><rect x="596" y="471" width="5" height="19" fill="#22ab94"/><rect x="602" y="470" width="5" height="20" fill="#22ab94"/><rect x="608" y="467" width="5" height="23" fill="#22ab94"/><rect x="614" y="467" width="5" height="23" fill="#ace5dc"/><rect x="620" y="464" width="5" height="26" fill="#22ab94"/><rect x="626" y="461" width="5" height="29" fill="#22ab94"/><rect x="632" y="455" width="5" height="35" fill="#22ab94"/><rect x="638" y="449" width="5" height="41" fill="#22ab94"/><rect x="644" y="448" width="5" height="42" fill="#22ab94"/><rect x="650" y="449" width="5" height="41" fill="#ace5dc"/><rect x="656" y="452" width="5" height="38" fill="#ace5dc"/><rect x="662" y="459" width="5" height="31" fill="#ace5dc"/><rect x="668" y="464" width="5" height="26" fill="#ace5dc"/><rect x="674" y="468" width="5" height="22" fill="#ace5dc"/><rect x="680" y="470" width="5" height="20" fill="#ace5dc"/><rect x="686" y="473" width="5" height="17" fill="#ace5dc"/>
</g>
<path d="M-2.0 464.0 L0.0 469.0 L12.0 489.0 L20.0 499.0 L30.0 510.0 L40.0 519.0 L50.0 524.4 L58.0 526.6 L70.0 536.4 L82.0 539.4 L94.0 536.0 L100.0 538.0 L105.0 538.0 L114.0 546.0 L124.0 549.6 L140.0 547.0 L154.0 542.4 L160.0 534.0 L170.0 523.0 L180.0 514.0 L190.0 509.0 L202.0 503.4 L210.0 502.4 L220.0 501.0 L230.0 495.0 L240.0 489.0 L250.0 485.0 L256.0 480.4 L262.0 480.0 L270.0 480.4 L274.0 478.4 L286.0 478.4 L294.0 484.0 L302.0 490.0 L310.0 495.0 L316.0 498.0 L322.0 508.0 L328.0 522.0 L334.0 537.6 L346.0 540.0 L352.0 538.4 L364.0 538.4 L370.0 539.4 L376.0 537.6 L382.0 540.0 L388.0 546.0 L394.0 549.4 L406.0 549.6 L418.0 548.0 L424.0 545.0 L430.0 542.4 L436.0 542.6 L444.0 538.0 L454.0 533.0 L460.0 532.0 L465.0 531.4 L472.0 536.0 L478.0 541.0 L484.0 547.0 L490.0 550.6 L496.0 555.4 L502.0 555.4 L508.0 553.6 L514.0 550.6 L520.0 549.0 L530.0 547.0 L538.0 546.4 L544.0 543.0 L550.0 540.0 L556.0 538.0 L562.0 534.6 L568.0 528.6 L574.0 529.6 L580.0 524.4 L586.0 519.0 L592.0 515.0 L598.0 507.0 L604.0 500.0 L610.0 491.0 L616.0 486.0 L622.0 476.0 L630.0 459.0 L636.0 443.0 L642.0 429.0 L648.0 419.0 L654.0 412.0 L658.4 408.4 L666.0 407.0 L676.0 405.0 L688.5 400.4" fill="none" stroke="#2196f3" stroke-width="1" stroke-linejoin="round" stroke-linecap="round"/>
<path d="M-2.0 452.0 L0.0 455.0 L20.0 473.0 L40.0 493.0 L60.0 510.0 L80.0 524.0 L90.0 528.4 L106.0 532.4 L120.0 538.0 L130.0 541.6 L140.0 543.2 L150.0 543.0 L160.0 541.0 L170.0 536.0 L180.0 530.0 L190.0 524.0 L200.0 518.6 L210.0 514.0 L220.0 510.0 L230.0 505.0 L240.0 500.0 L250.0 495.0 L260.0 490.0 L270.0 486.6 L280.0 484.4 L290.0 483.6 L300.0 485.0 L310.0 488.0 L320.0 493.0 L330.0 503.0 L340.0 514.0 L350.0 522.0 L360.0 527.0 L370.0 530.6 L380.0 533.0 L390.0 537.6 L400.0 541.0 L410.0 543.4 L420.0 544.6 L430.0 544.4 L440.0 543.0 L450.0 541.0 L460.0 538.0 L470.0 536.6 L480.0 538.0 L490.0 542.0 L500.0 546.0 L510.0 548.0 L520.0 548.4 L530.0 548.0 L540.0 547.4 L550.0 545.0 L560.0 542.0 L570.0 539.0 L580.0 535.0 L590.0 529.0 L600.0 521.0 L610.0 513.0 L618.0 505.0 L630.0 491.0 L640.0 473.0 L650.0 455.0 L660.0 441.6 L670.0 430.6 L680.0 423.0 L688.5 417.7" fill="none" stroke="#ff3377" stroke-width="2" stroke-linejoin="round" stroke-linecap="round"/>
<text x="762.2" y="32.0" font-size="12" fill="#131722" stroke="#131722" stroke-width="0.15" textLength="28.0" lengthAdjust="spacingAndGlyphs">65.00</text>
<text x="762.2" y="67.0" font-size="12" fill="#131722" stroke="#131722" stroke-width="0.15" textLength="28.0" lengthAdjust="spacingAndGlyphs">64.00</text>
<text x="762.2" y="103.0" font-size="12" fill="#131722" stroke="#131722" stroke-width="0.15" textLength="28.0" lengthAdjust="spacingAndGlyphs">63.00</text>
<text x="762.2" y="139.0" font-size="12" fill="#131722" stroke="#131722" stroke-width="0.15" textLength="28.0" lengthAdjust="spacingAndGlyphs">62.00</text>
<text x="762.2" y="174.0" font-size="12" fill="#131722" stroke="#131722" stroke-width="0.15" textLength="28.0" lengthAdjust="spacingAndGlyphs">61.00</text>
<text x="762.2" y="210.0" font-size="12" fill="#131722" stroke="#131722" stroke-width="0.15" textLength="28.0" lengthAdjust="spacingAndGlyphs">60.00</text>
<text x="762.2" y="246.0" font-size="12" fill="#131722" stroke="#131722" stroke-width="0.15" textLength="28.0" lengthAdjust="spacingAndGlyphs">59.00</text>
<text x="762.2" y="281.0" font-size="12" fill="#131722" stroke="#131722" stroke-width="0.15" textLength="28.0" lengthAdjust="spacingAndGlyphs">58.00</text>
<text x="762.2" y="317.0" font-size="12" fill="#131722" stroke="#131722" stroke-width="0.15" textLength="28.0" lengthAdjust="spacingAndGlyphs">57.00</text>
<text x="762.2" y="353.0" font-size="12" fill="#131722" stroke="#131722" stroke-width="0.15" textLength="28.0" lengthAdjust="spacingAndGlyphs">56.00</text>
<text x="762.2" y="416.0" font-size="12" fill="#131722" stroke="#131722" stroke-width="0.15" textLength="22.2" lengthAdjust="spacingAndGlyphs">1.00</text>
<text x="762.2" y="455.0" font-size="12" fill="#131722" stroke="#131722" stroke-width="0.15" textLength="22.2" lengthAdjust="spacingAndGlyphs">0.50</text>
<text x="762.2" y="494.0" font-size="12" fill="#131722" stroke="#131722" stroke-width="0.15" textLength="22.2" lengthAdjust="spacingAndGlyphs">0.00</text>
<text x="762.2" y="533.0" font-size="12" fill="#131722" stroke="#131722" stroke-width="0.15" textLength="27.6" lengthAdjust="spacingAndGlyphs">−0.50</text>
<text x="762.2" y="572.0" font-size="12" fill="#131722" stroke="#131722" stroke-width="0.15" textLength="27.6" lengthAdjust="spacingAndGlyphs">−1.00</text>
<path d="M752 117 H794 a2 2 0 0 1 2 2 V132 a2 2 0 0 1 -2 2 H752 Z" fill="#089981"/>
<text x="762.2" y="130.0" font-size="12" fill="#fff" stroke="#fff" stroke-width="0.15" textLength="28.0" lengthAdjust="spacingAndGlyphs">62.25</text>
<text x="58.5" y="590.0" font-size="12" fill="#131722" stroke="#131722" stroke-width="0.15" text-anchor="middle">Oct</text>
<text x="160.5" y="590.0" font-size="12" fill="#131722" stroke="#131722" stroke-width="0.15" text-anchor="middle">5</text>
<text x="274.5" y="590.0" font-size="12" fill="#131722" stroke="#131722" stroke-width="0.15" text-anchor="middle">9</text>
<text x="382.5" y="590.0" font-size="12" fill="#131722" stroke="#131722" stroke-width="0.15" text-anchor="middle">14</text>
<text x="490.5" y="590.0" font-size="12" fill="#131722" stroke="#131722" stroke-width="0.15" text-anchor="middle">17</text>
<text x="598.5" y="590.0" font-size="12" fill="#131722" stroke="#131722" stroke-width="0.15" text-anchor="middle">22</text>
<text x="700.5" y="590.0" font-size="12" fill="#131722" stroke="#131722" stroke-width="0.15" text-anchor="middle">26</text>
<g transform="translate(776.5 586.5)" fill="none" stroke="#131722" stroke-width="1.3"><circle r="5.1"/><line x1="5.50" y1="0.00" x2="7.30" y2="0.00"/><line x1="3.89" y1="3.89" x2="5.16" y2="5.16"/><line x1="0.00" y1="5.50" x2="0.00" y2="7.30"/><line x1="-3.89" y1="3.89" x2="-5.16" y2="5.16"/><line x1="-5.50" y1="0.00" x2="-7.30" y2="0.00"/><line x1="-3.89" y1="-3.89" x2="-5.16" y2="-5.16"/><line x1="-0.00" y1="-5.50" x2="-0.00" y2="-7.30"/><line x1="3.89" y1="-3.89" x2="5.16" y2="-5.16"/></g>
<circle cx="23.7" cy="549.7" r="16.4" fill="#fff" stroke="#e4e4e4" stroke-width="1"/>
<g transform="translate(12.9 545.1)" fill="#131722"><path d="M0 0 H9.2 V10.6 H5.1 V3.9 H0 Z"/><circle cx="12.1" cy="1.95" r="1.95"/><path d="M16 0 H21.45 L17.5 10.6 H12.1 Z"/></g>
<text x="9.4" y="21.5" font-size="14" fill="#131722" stroke="#131722" stroke-width="0.15" textLength="41.2" lengthAdjust="spacingAndGlyphs">Crude</text>
<text x="57.2" y="21.5" font-size="14" fill="#131722" stroke="#131722" stroke-width="0.15" textLength="19.7" lengthAdjust="spacingAndGlyphs">Oil</text>
<text x="83.8" y="21.5" font-size="14" fill="#131722" stroke="#131722" stroke-width="0.15" textLength="51.6" lengthAdjust="spacingAndGlyphs">Futures</text>
<text x="148.2" y="21.5" font-size="14" fill="#131722" stroke="#131722" stroke-width="0.15" textLength="15.6" lengthAdjust="spacingAndGlyphs">4h</text>
<text x="177.8" y="21.5" font-size="14" fill="#131722" stroke="#131722" stroke-width="0.15" textLength="45.9" lengthAdjust="spacingAndGlyphs">NYMEX</text>
<text x="141.7" y="21.5" font-size="14" font-weight="bold" text-anchor="middle" fill="#131722">·</text>
<text x="171.0" y="21.5" font-size="14" font-weight="bold" text-anchor="middle" fill="#131722">·</text>
<circle cx="249" cy="16.1" r="8.8" fill="rgba(8,153,129,0.15)"/><circle cx="249" cy="16.1" r="4.3" fill="#089981"/>
<text x="274.7" y="20.9" font-size="11.8" fill="#131722" stroke="#131722" stroke-width="0.15" textLength="8.1" lengthAdjust="spacingAndGlyphs">O</text>
<text x="284.6" y="20.9" font-size="11.8" fill="#089981" stroke="#089981" stroke-width="0.15" textLength="31.3" lengthAdjust="spacingAndGlyphs">62.10</text>
<text x="324.4" y="20.9" font-size="11.8" fill="#131722" stroke="#131722" stroke-width="0.15" textLength="6.5" lengthAdjust="spacingAndGlyphs">H</text>
<text x="333.2" y="20.9" font-size="11.8" fill="#089981" stroke="#089981" stroke-width="0.15" textLength="32.4" lengthAdjust="spacingAndGlyphs">62.40</text>
<text x="372.8" y="20.9" font-size="11.8" fill="#131722" stroke="#131722" stroke-width="0.15" textLength="6.0" lengthAdjust="spacingAndGlyphs">L</text>
<text x="380.6" y="20.9" font-size="11.8" fill="#089981" stroke="#089981" stroke-width="0.15" textLength="31.0" lengthAdjust="spacingAndGlyphs">61.92</text>
<text x="419.4" y="20.9" font-size="11.8" fill="#131722" stroke="#131722" stroke-width="0.15" textLength="6.5" lengthAdjust="spacingAndGlyphs">C</text>
<text x="428.2" y="20.9" font-size="11.8" fill="#089981" stroke="#089981" stroke-width="0.15" textLength="32.1" lengthAdjust="spacingAndGlyphs">62.25</text>
<text x="468.1" y="20.9" font-size="11.8" fill="#089981" stroke="#089981" stroke-width="0.15" textLength="30.4" lengthAdjust="spacingAndGlyphs">+0.16</text>
<text x="505.6" y="20.9" font-size="11.8" fill="#089981" stroke="#089981" stroke-width="0.15" textLength="48.8" lengthAdjust="spacingAndGlyphs">(+0.26%)</text>
<text x="9.0" y="45.0" font-size="12.4" fill="#131722" stroke="#131722" stroke-width="0.15" textLength="42.0" lengthAdjust="spacingAndGlyphs">Volume</text>
<text x="56.0" y="45.0" font-size="12.4" fill="#595c68" stroke="#595c68" stroke-width="0.15" textLength="21.4" lengthAdjust="spacingAndGlyphs">SMA</text>
<text x="82.6" y="45.0" font-size="12.4" fill="#595c68" stroke="#595c68" stroke-width="0.15" textLength="5.4" lengthAdjust="spacingAndGlyphs">9</text>
<text x="103.4" y="45.0" font-size="12.4" fill="#22ab94" stroke="#22ab94" stroke-width="0.15" textLength="46.6" lengthAdjust="spacingAndGlyphs">37.001K</text>
<text x="9.0" y="403.0" font-size="12.4" fill="#131722" stroke="#131722" stroke-width="0.15" textLength="32.4" lengthAdjust="spacingAndGlyphs">MACD</text>
<text x="47.0" y="403.0" font-size="12.4" fill="#595c68" stroke="#595c68" stroke-width="0.15" textLength="11.6" lengthAdjust="spacingAndGlyphs">12</text>
<text x="64.4" y="403.0" font-size="12.4" fill="#595c68" stroke="#595c68" stroke-width="0.15" textLength="12.6" lengthAdjust="spacingAndGlyphs">26</text>
<text x="82.0" y="403.0" font-size="12.4" fill="#595c68" stroke="#595c68" stroke-width="0.15" textLength="27.6" lengthAdjust="spacingAndGlyphs">close</text>
<text x="115.0" y="403.0" font-size="12.4" fill="#595c68" stroke="#595c68" stroke-width="0.15" textLength="6.0" lengthAdjust="spacingAndGlyphs">9</text>
<text x="136.6" y="403.0" font-size="12.4" fill="#ace5dc" stroke="#ace5dc" stroke-width="0.15" textLength="23.4" lengthAdjust="spacingAndGlyphs">0.21</text>
<text x="169.4" y="403.0" font-size="12.4" fill="#2196f3" stroke="#2196f3" stroke-width="0.15" textLength="23.6" lengthAdjust="spacingAndGlyphs">1.13</text>
<text x="200.0" y="403.0" font-size="12.4" fill="#ff3377" stroke="#ff3377" stroke-width="0.15" textLength="25.0" lengthAdjust="spacingAndGlyphs">0.92</text>
</svg>
</body></html>
